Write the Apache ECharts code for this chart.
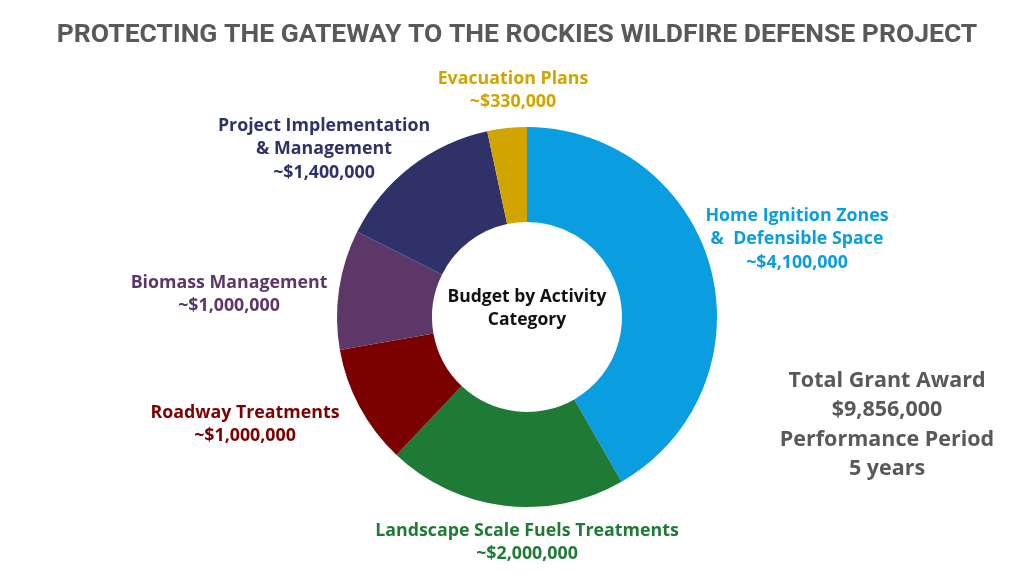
<!DOCTYPE html>
<html>
<head>
    <meta charset="utf-8">
    <title>Wildfire Defense Budget</title>
    <script src="https://cdn.jsdelivr.net/npm/echarts@6/dist/echarts.min.js"></script>
    <style>
        html, body { margin: 0; padding: 0; background: #fff; }
        #main { width: 1024px; height: 576px; }
    </style>
</head>
<body>
    <div id="main"></div>
    <script>
        // budget categories, clockwise from 12 o'clock
        var categories = [
            'Home Ignition Zones\n&  Defensible Space',
            'Landscape Scale Fuels Treatments',
            'Roadway Treatments',
            'Biomass Management',
            'Project Implementation\n& Management',
            'Evacuation Plans'
        ];
        var amounts = [4100000, 2000000, 1000000, 1000000, 1400000, 330000];
        var amountLabels = ['~$4,100,000', '~$2,000,000', '~$1,000,000', '~$1,000,000', '~$1,400,000', '~$330,000'];
        var colors = ['#0a9ddf', '#1f7a35', '#7b0000', '#5d3767', '#2e3268', '#d1a400'];

        // where each label block is centred (x, top y)
        var labelSpots = [[797, 204], [527, 519], [245, 401], [229, 271], [324, 114], [513, 67]];

        var FONT = '"Open Sans", Inter, sans-serif';

        var chartDom = document.getElementById('main');
        var myChart = echarts.init(chartDom);

        var option = {
            animation: false,
            backgroundColor: '#fff',
            title: {
                text: 'PROTECTING THE GATEWAY TO THE ROCKIES WILDFIRE DEFENSE PROJECT',
                left: 512,
                textAlign: 'center',
                top: 17,
                textStyle: {
                    fontFamily: 'Roboto',
                    fontWeight: 700,
                    fontSize: 26.5,
                    color: '#58595b'
                }
            },
            graphic: [
                {
                    type: 'text',
                    style: {
                        x: 527,
                        y: 285,
                        text: 'Budget by Activity\nCategory',
                        textAlign: 'center',
                        fontFamily: FONT,
                        fontWeight: 700,
                        fontSize: 17.5,
                        lineHeight: 23.5,
                        fill: '#111'
                    }
                },
                {
                    type: 'text',
                    style: {
                        x: 887,
                        y: 366,
                        text: 'Total Grant Award\n$9,856,000\nPerformance Period\n5 years',
                        textAlign: 'center',
                        fontFamily: FONT,
                        fontWeight: 700,
                        fontSize: 21.5,
                        lineHeight: 29.5,
                        fill: '#58595b'
                    }
                }
            ],
            series: [
                {
                    type: 'pie',
                    center: [527, 317],
                    radius: [95, 190],
                    startAngle: 90,
                    clockwise: true,
                    itemStyle: { borderWidth: 0 },
                    labelLine: { show: false },
                    label: {
                        show: true,
                        position: 'outside',
                        fontFamily: FONT,
                        fontWeight: 700,
                        fontSize: 17.8,
                        lineHeight: 23.5,
                        align: 'center',
                        color: 'inherit',
                        formatter: function (p) {
                            return p.name + '\n' + amountLabels[p.dataIndex];
                        }
                    },
                    labelLayout: function (params) {
                        var spot = labelSpots[params.dataIndex];
                        return {
                            x: spot[0],
                            y: spot[1],
                            align: 'center',
                            verticalAlign: 'top'
                        };
                    },
                    emphasis: { disabled: true },
                    data: categories.map(function (name, i) {
                        return {
                            name: name,
                            value: amounts[i],
                            itemStyle: { color: colors[i] }
                        };
                    })
                }
            ]
        };

        myChart.setOption(option);
    </script>
</body>
</html>
